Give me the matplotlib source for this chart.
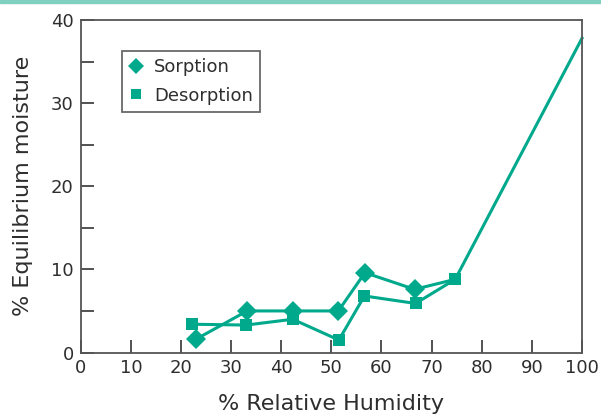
import matplotlib
matplotlib.use("Agg")
import matplotlib.pyplot as plt
from matplotlib.patches import Rectangle

# sorption / desorption isotherm values
rh_sorption = [23.0, 33.2, 42.4, 51.4, 56.7, 66.6, 74.7, 100]
moist_sorption = [1.6, 5.0, 5.0, 5.0, 9.6, 7.6, 8.8, 37.8]
rh_desorption = [22.3, 33.0, 42.3, 51.5, 56.6, 66.8, 74.7]
moist_desorption = [3.4, 3.3, 4.0, 1.5, 6.8, 5.9, 8.8]
x_ticks = [0, 10, 20, 30, 40, 50, 60, 70, 80, 90, 100]
y_ticks = [0, 10, 20, 30, 40]
y_minor = [5, 15, 25, 35]

teal = '#00a98c'
ink = '#2e2e2e'
plt.rcParams['font.family'] = ['DejaVu Sans']

fig = plt.figure(figsize=(6.01, 4.15), dpi=100)
ax = fig.add_axes([80.7 / 601, 62.5 / 415, 501.3 / 601, 332.5 / 415])

# light band along the top edge
fig.patches.append(Rectangle((0, 1 - 3 / 415), 1, 3 / 415, transform=fig.transFigure,
                             color='#80d0c0', zorder=0))

# the shared point at 75% only carries the square marker; the end point has none
ax.plot(rh_sorption, moist_sorption, color=teal, lw=2.2, marker='D', ms=10.5, mew=0,
        markevery=list(range(len(rh_sorption) - 2)), label='Sorption', clip_on=False)
ax.plot(rh_desorption, moist_desorption, color=teal, lw=2.2, marker='s', ms=8.8, mew=0,
        label='Desorption')

ax.set_xlim(0, 100)
ax.set_ylim(0, 40)
ax.set_xticks(x_ticks)
ax.set_yticks(y_ticks)
ax.set_yticks(y_minor, minor=True)
ax.tick_params(which='both', direction='in', length=9.5, width=1.3, colors='#444444',
               labelcolor=ink, labelsize=13)
ax.tick_params(axis='x', pad=5)
ax.tick_params(axis='y', pad=5)
for s in ax.spines.values():
    s.set_color('#555555')
    s.set_linewidth(1.3)

ax.set_xlabel('% Relative Humidity', fontsize=16, color=ink, labelpad=12)
ax.set_ylabel('% Equilibrium moisture', fontsize=16, color=ink, labelpad=13)

leg = ax.legend(loc='upper left', bbox_to_anchor=(0.083, 0.906), fontsize=13,
                frameon=True, fancybox=False, edgecolor='#444444',
                handlelength=0.7, handletextpad=0.65, borderpad=0.4,
                labelspacing=0.57, borderaxespad=0, labelcolor=ink)
leg.get_frame().set_linewidth(1.3)
for h, size in zip(leg.legend_handles, [8.6, 7.2]):
    h.set_linestyle('none')
    h.set_markersize(size)

fig.savefig('out.png', dpi=100)
